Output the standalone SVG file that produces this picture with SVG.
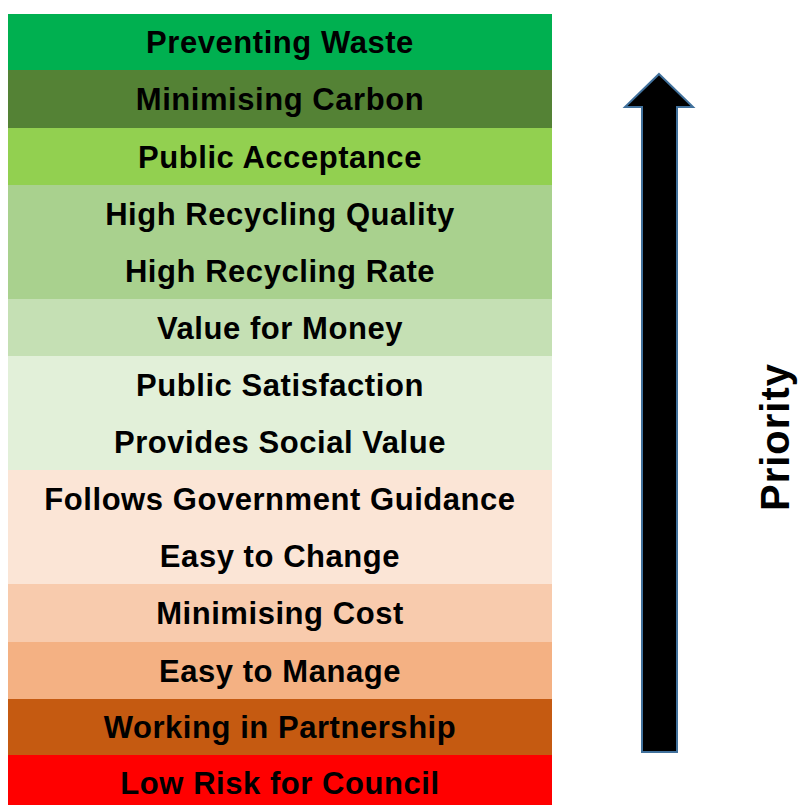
<svg xmlns="http://www.w3.org/2000/svg" width="802" height="805" viewBox="0 0 802 805">
<style>
.lbl{font-family:"Liberation Sans",Arial,sans-serif;font-weight:bold;font-size:31px;letter-spacing:0.55px;fill:#000;text-anchor:middle}
.pri{font-family:"Liberation Sans",Arial,sans-serif;font-weight:bold;font-size:40px;letter-spacing:1px;fill:#000;text-anchor:middle}
</style>
<rect width="802" height="805" fill="#fff"/>
<g id="bands">
<g id="preventing-waste"><rect x="8" y="14" width="544" height="56" fill="#00B050"/><text class="lbl" x="280" y="53">Preventing Waste</text></g>
<g id="minimising-carbon"><rect x="8" y="70" width="544" height="58" fill="#548235"/><text class="lbl" x="280" y="110">Minimising Carbon</text></g>
<g id="public-acceptance"><rect x="8" y="128" width="544" height="57" fill="#92D050"/><text class="lbl" x="280" y="167.5">Public Acceptance</text></g>
<g id="high-recycling"><rect x="8" y="185" width="544" height="114" fill="#A9D18E"/><text class="lbl" x="280" y="224.5">High Recycling Quality</text><text class="lbl" x="280" y="281.5">High Recycling Rate</text></g>
<g id="value-for-money"><rect x="8" y="299" width="544" height="57" fill="#C5E0B4"/><text class="lbl" x="280" y="338.5">Value for Money</text></g>
<g id="public-satisfaction"><rect x="8" y="356" width="544" height="114" fill="#E2F0D9"/><text class="lbl" x="280" y="395.5">Public Satisfaction</text><text class="lbl" x="280" y="452.5">Provides Social Value</text></g>
<g id="follows-guidance"><rect x="8" y="470" width="544" height="114" fill="#FBE5D6"/><text class="lbl" x="280" y="509.5">Follows Government Guidance</text><text class="lbl" x="280" y="566.5">Easy to Change</text></g>
<g id="minimising-cost"><rect x="8" y="584" width="544" height="58" fill="#F8CBAD"/><text class="lbl" x="280" y="624">Minimising Cost</text></g>
<g id="easy-to-manage"><rect x="8" y="642" width="544" height="57" fill="#F4B183"/><text class="lbl" x="280" y="681.5">Easy to Manage</text></g>
<g id="working-in-partnership"><rect x="8" y="699" width="544" height="56" fill="#C55A11"/><text class="lbl" x="280" y="738">Working in Partnership</text></g>
<g id="low-risk"><rect x="8" y="755" width="544" height="50" fill="#FF0000"/><text class="lbl" x="280" y="794">Low Risk for Council</text></g>
</g>
<g id="connectors">
<path d="M659,74 L693,107 L677,107 L677,752 L642,752 L642,107 L625,107 Z" fill="#000" stroke="#41719C" stroke-width="2" stroke-linejoin="miter"/>
</g>
<g id="priority"><text class="pri" transform="translate(789,437) rotate(-90)">Priority</text></g>
</svg>
